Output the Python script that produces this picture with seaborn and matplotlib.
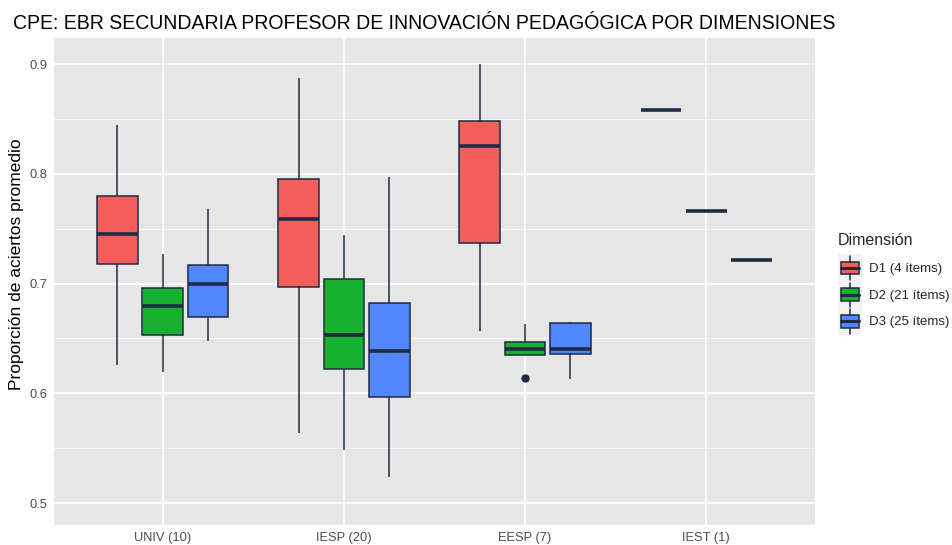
import numpy as np
import pandas as pd
import matplotlib
matplotlib.use("Agg")
import matplotlib.pyplot as plt
import seaborn as sns
from matplotlib.legend_handler import HandlerBase
from matplotlib.patches import Rectangle, Patch
from matplotlib.lines import Line2D
from matplotlib.ticker import MultipleLocator, NullLocator

groups = ["UNIV (10)", "IESP (20)", "EESP (7)", "IEST (1)"]
dims = ["D1 (4 ítems)", "D2 (21 ítems)", "D3 (25 ítems)"]
colors = ["#F35E5A", "#19AF2F", "#5087FF"]
edge = "#1F2A44"

# box summaries, one value per group
# (lowest point, q1, median, q3, highest point); EESP D2 lowest is the outlier
d1_low = [0.626, 0.5635, 0.657, 0.858]
d1_q1 = [0.7175, 0.697, 0.737, 0.858]
d1_med = [0.745, 0.7585, 0.825, 0.858]
d1_q3 = [0.780, 0.795, 0.848, 0.858]
d1_high = [0.844, 0.887, 0.900, 0.858]

d2_low = [0.6197, 0.548, 0.614, 0.766]
d2_q1 = [0.6528, 0.6218, 0.6345, 0.766]
d2_med = [0.6798, 0.6534, 0.6403, 0.766]
d2_q3 = [0.6956, 0.704, 0.6464, 0.766]
d2_high = [0.7266, 0.744, 0.663, 0.766]

d3_low = [0.6476, 0.524, 0.613, 0.721]
d3_q1 = [0.6692, 0.5963, 0.636, 0.721]
d3_med = [0.6992, 0.6385, 0.6406, 0.721]
d3_q3 = [0.7169, 0.682, 0.6637, 0.721]
d3_high = [0.7676, 0.797, 0.665, 0.721]

summaries = {
    dims[0]: [d1_low, d1_q1, d1_med, d1_q3, d1_high],
    dims[1]: [d2_low, d2_q1, d2_med, d2_q3, d2_high],
    dims[2]: [d3_low, d3_q1, d3_med, d3_q3, d3_high],
}
rows = []
for dim, cols in summaries.items():
    for gi, g in enumerate(groups):
        for col in cols:
            rows.append({"grupo": g, "dim": dim, "valor": col[gi]})
df = pd.DataFrame(rows)

sns.set_theme(style="darkgrid")
plt.rcParams["font.family"] = ["Liberation Sans", "DejaVu Sans"]

fig = plt.figure(figsize=(9.52, 5.45), dpi=100)
ax = fig.add_axes([54 / 952, 20 / 545, 761 / 952, 487 / 545])

sns.boxplot(data=df, x="grupo", y="valor", hue="dim", order=groups, hue_order=dims,
            palette=colors, saturation=1, width=0.75, gap=0.1, whis=1.5,
            linecolor=edge, linewidth=1.1, showcaps=False, legend=False,
            medianprops=dict(color=edge, linewidth=2.6),
            flierprops=dict(marker="o", markerfacecolor=edge, markeredgecolor=edge,
                            markersize=5),
            ax=ax)

ax.set_facecolor("#E6E6E6")
for s in ax.spines.values():
    s.set_visible(False)
ax.set_xlim(-0.6, 3.6)
ax.set_ylim(0.480, 0.9237)
ax.yaxis.set_major_locator(MultipleLocator(0.1))
ax.yaxis.set_minor_locator(MultipleLocator(0.05))
ax.xaxis.set_minor_locator(NullLocator())
ax.set_axisbelow(True)
ax.grid(True, which="major", color="white", linewidth=1.2)
ax.grid(True, which="minor", axis="y", color="white", linewidth=0.55)
ax.tick_params(which="major", length=3, width=0.8, color="#333333",
               labelcolor="#4D4D4D", labelsize=9.3, pad=2)
ax.tick_params(which="minor", length=0)
ax.set_xlabel("")
ax.set_ylabel("")

fig.text(13 / 952, 1 - 29 / 545,
         "CPE: EBR SECUNDARIA PROFESOR DE INNOVACIÓN PEDAGÓGICA POR DIMENSIONES",
         fontsize=14.05, ha="left", va="baseline", color="black")
fig.text(17 / 952, 1 - 264 / 545, "Proporción de aciertos promedio",
         rotation=90, ha="center", va="center", fontsize=12.5, color="black")


class BoxKey(HandlerBase):
    def create_artists(self, legend, orig, xd, yd, w, h, fontsize, trans):
        x0, y0 = -xd, -yd
        bg = Rectangle((x0, y0), w, h, facecolor="#F2F2F2", edgecolor="none",
                       transform=trans)
        bx = Rectangle((x0 + 0.12 * w, y0 + 0.27 * h), 0.76 * w, 0.46 * h,
                       facecolor=orig.get_facecolor(), edgecolor=edge, lw=1.1,
                       transform=trans)
        lo = Line2D([x0 + w / 2] * 2, [y0 + 0.05 * h, y0 + 0.27 * h], color=edge,
                    lw=1.1, transform=trans)
        hi = Line2D([x0 + w / 2] * 2, [y0 + 0.73 * h, y0 + 0.95 * h], color=edge,
                    lw=1.1, transform=trans)
        md = Line2D([x0 + 0.12 * w, x0 + 0.88 * w], [y0 + h / 2] * 2, color=edge,
                    lw=2.2, transform=trans)
        return [bg, bx, lo, hi, md]


handles = [Patch(facecolor=c) for c in colors]
leg = fig.legend(handles, dims, loc="center left", bbox_to_anchor=(838 / 952, 1 - 284 / 545),
                 handler_map={Patch: BoxKey()}, frameon=False, fontsize=9.5,
                 title="Dimensión", title_fontsize=11.5, alignment="left",
                 handlelength=1.8, handleheight=2.75, labelspacing=0,
                 handletextpad=0.55, borderpad=0, borderaxespad=0)
# a little room between the legend title and the keys
leg._legend_box.sep = 4.5

fig.savefig("out.png", dpi=100)
